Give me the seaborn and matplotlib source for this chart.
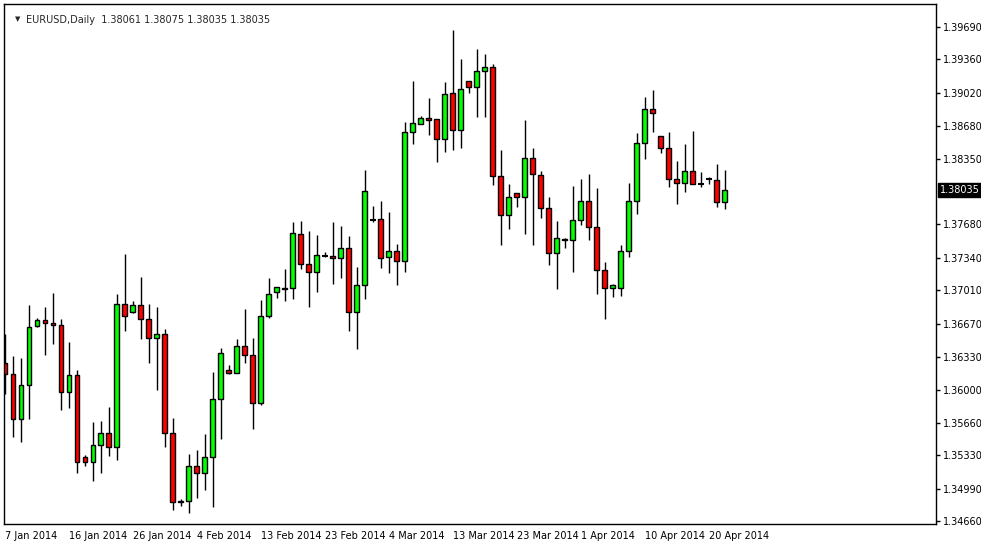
import matplotlib
matplotlib.use("Agg")
import matplotlib.pyplot as plt
import seaborn as sns
import numpy as np

opens = [1.3627,1.3616,1.3570,1.3605,1.3665,1.3671,1.3668,1.3666,1.3597,1.3615,
         1.3531,1.3526,1.3544,1.3556,1.3541,1.3687,1.3679,1.3686,1.3672,1.3652,
         1.3656,1.3556,1.3486,1.3487,1.3522,1.3515,1.3531,1.3590,1.3620,1.3617,
         1.3644,1.3635,1.3586,1.3675,1.3699,1.3702,1.3703,1.3758,1.3728,1.3720,
         1.3736,1.3736,1.3734,1.3744,1.3679,1.3706,1.3773,1.3774,1.3735,1.3741,
         1.3731,1.3862,1.3870,1.3876,1.3875,1.3855,1.3902,1.3864,1.3914,1.3908,
         1.3924,1.3928,1.3817,1.3778,1.3800,1.3796,1.3836,1.3818,1.3785,1.3739,
         1.3752,1.3752,1.3773,1.3792,1.3765,1.3722,1.3703,1.3703,1.3741,1.3792,
         1.3851,1.3886,1.3858,1.3846,1.3814,1.3810,1.3822,1.3809,1.3814,1.3813,
         1.3791]
closes = [1.3616,1.3570,1.3605,1.3664,1.3671,1.3668,1.3666,1.3597,1.3615,1.3526,
          1.3526,1.3544,1.3556,1.3541,1.3687,1.3675,1.3686,1.3672,1.3652,1.3656,
          1.3556,1.3486,1.3487,1.3522,1.3515,1.3531,1.3590,1.3637,1.3617,1.3644,
          1.3635,1.3586,1.3675,1.3697,1.3704,1.3703,1.3759,1.3728,1.3720,1.3737,
          1.3736,1.3734,1.3744,1.3679,1.3706,1.3802,1.3773,1.3734,1.3741,1.3731,
          1.3862,1.3871,1.3876,1.3874,1.3855,1.3901,1.3864,1.3906,1.3908,1.3924,
          1.3928,1.3817,1.3778,1.3796,1.3796,1.3836,1.3819,1.3785,1.3739,1.3754,
          1.3753,1.3773,1.3792,1.3765,1.3722,1.3703,1.3706,1.3741,1.3792,1.3851,
          1.3886,1.3881,1.3846,1.3814,1.3810,1.3822,1.3809,1.3809,1.3814,1.3791,
          1.38035]
highs = [1.3656,1.3634,1.3632,1.3686,1.3673,1.3684,1.3698,1.3672,1.3648,1.3620,
         1.3533,1.3567,1.3568,1.3582,1.3697,1.3738,1.3690,1.3715,1.3687,1.3684,
         1.3662,1.3571,1.3489,1.3534,1.3538,1.3555,1.3618,1.3642,1.3625,1.3651,
         1.3682,1.3652,1.3691,1.3714,1.3704,1.3723,1.3770,1.3772,1.3761,1.3757,
         1.3740,1.3771,1.3766,1.3756,1.3725,1.3823,1.3787,1.3792,1.3781,1.3748,
         1.3872,1.3914,1.3878,1.3897,1.3875,1.3913,1.3966,1.3936,1.3914,1.3947,
         1.3942,1.3931,1.3844,1.3809,1.3800,1.3874,1.3846,1.3822,1.3796,1.3772,
         1.3754,1.3807,1.3814,1.3819,1.3805,1.3730,1.3707,1.3747,1.3810,1.3861,
         1.3898,1.3905,1.3858,1.3862,1.3833,1.3850,1.3863,1.3821,1.3816,1.3830,
         1.3823]
lows = [1.3595,1.3552,1.3547,1.3570,1.3664,1.3635,1.3646,1.3579,1.3581,1.3515,
        1.3522,1.3507,1.3515,1.3532,1.3528,1.3660,1.3678,1.3651,1.3627,1.3600,
        1.3541,1.3477,1.3481,1.3474,1.3490,1.3498,1.3480,1.3550,1.3616,1.3617,
        1.3627,1.3560,1.3584,1.3673,1.3693,1.3690,1.3692,1.3723,1.3684,1.3699,
        1.3735,1.3707,1.3714,1.3660,1.3641,1.3692,1.3771,1.3724,1.3719,1.3706,
        1.3720,1.3850,1.3870,1.3859,1.3832,1.3842,1.3844,1.3846,1.3902,1.3877,
        1.3877,1.3808,1.3747,1.3763,1.3786,1.3758,1.3747,1.3775,1.3727,1.3702,
        1.3744,1.3720,1.3767,1.3752,1.3697,1.3672,1.3694,1.3695,1.3735,1.3779,
        1.3835,1.3862,1.3841,1.3806,1.3789,1.3801,1.3809,1.3806,1.3809,1.3786,
        1.3784]
date_labels = ["7 Jan 2014","16 Jan 2014","26 Jan 2014","4 Feb 2014","13 Feb 2014",
               "23 Feb 2014","4 Mar 2014","13 Mar 2014","23 Mar 2014","1 Apr 2014",
               "10 Apr 2014","20 Apr 2014"]
price_ticks = [1.39690,1.39360,1.39020,1.38680,1.38350,1.37680,1.37340,
               1.37010,1.36670,1.36330,1.36000,1.35660,1.35330,1.34990,1.34660]

sns.set_style("white")
plt.rcParams['font.family'] = ['DejaVu Sans']

W, H = 981, 545
fig = plt.figure(figsize=(W/100, H/100), dpi=100)
ax = fig.add_axes([4/W, (H-524)/H, 932/W, 520/H])

n = len(opens)
x = np.arange(n)
o = np.array(opens); c = np.array(closes); hi = np.array(highs); lo = np.array(lows)
ax.vlines(x, lo, hi, color="black", linewidth=1, zorder=1)
up = c >= o
colors = np.where(up, "#00FF00", "#FF0000")
bottom = np.minimum(o, c)
height = np.abs(c - o)
doji = height < 0.00008
for i in range(n):
    if doji[i]:
        ax.hlines(o[i], x[i]-0.35, x[i]+0.35, color="black", linewidth=1.5, zorder=2)
    else:
        ax.bar(x[i], height[i], bottom=bottom[i], width=0.62, color=colors[i],
               edgecolor="black", linewidth=1, zorder=2)

ax.set_xlim(-0.125, 116.4)
ax.set_ylim(1.34631, 1.39924)
ax.yaxis.tick_right()
ax.set_yticks(price_ticks)
ax.set_yticklabels([f"{v:.5f}" for v in price_ticks], fontsize=7)
ax.set_xticks(np.arange(0, 8*len(date_labels), 8))
ax.set_xticklabels(date_labels, fontsize=7, ha="left")
ax.tick_params(axis="both", direction="out", length=3, width=1, colors="black", pad=2)
for s in ax.spines.values():
    s.set_color("black"); s.set_linewidth(1); s.set_visible(True)

ax.text(0.012, 0.977, "\u25BC", transform=ax.transAxes, fontsize=5, va="top", ha="left")
ax.text(0.024, 0.979, "EURUSD,Daily  1.38061 1.38075 1.38035 1.38035",
        transform=ax.transAxes, fontsize=7, va="top", ha="left")
ax.text(1.004, closes[-1], f"{closes[-1]:.5f}", transform=ax.get_yaxis_transform(),
        fontsize=7, color="white", va="center", ha="left",
        bbox=dict(boxstyle="square,pad=0.2", fc="black", ec="black"))

fig.savefig("out.png", dpi=100, facecolor="white")
